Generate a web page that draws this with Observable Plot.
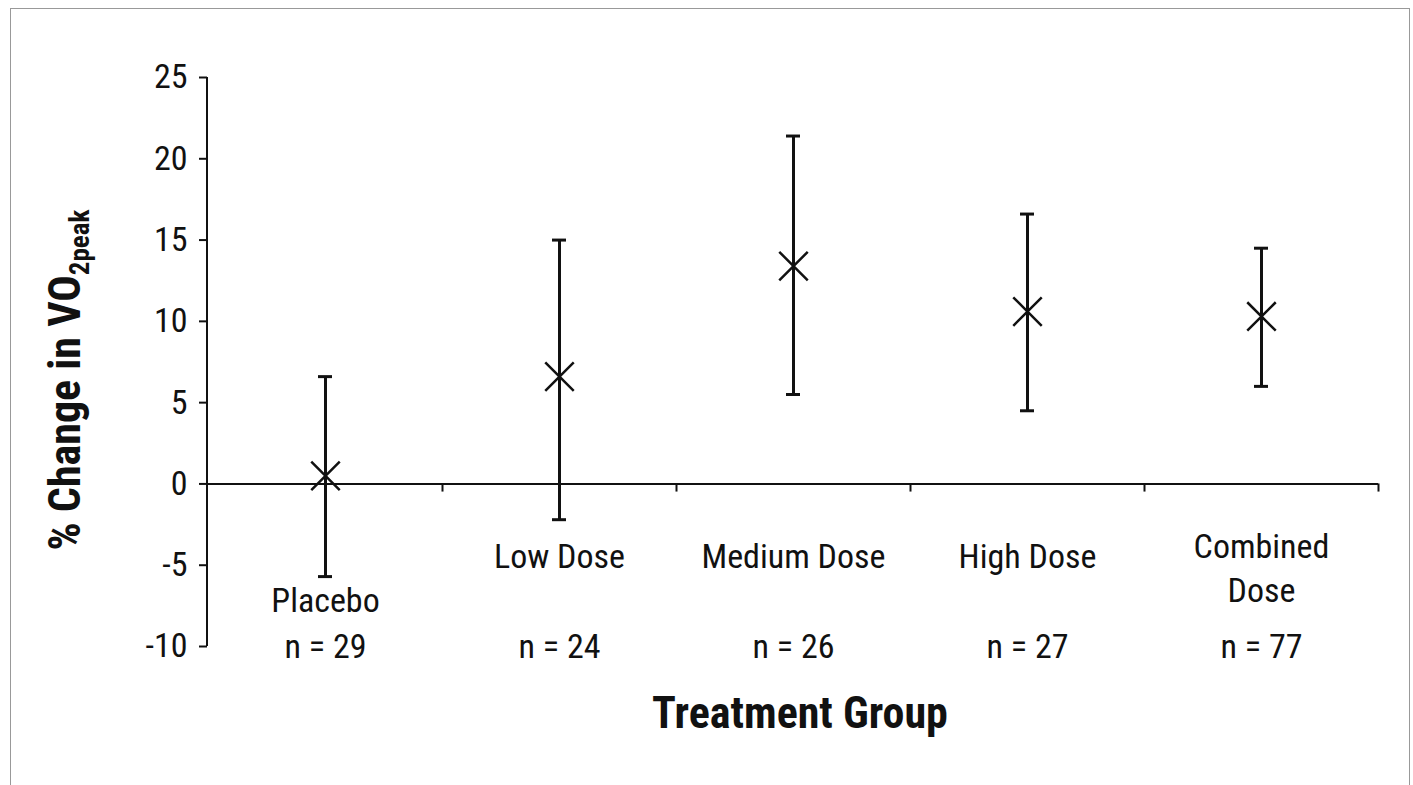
<!DOCTYPE html>
<html><head><meta charset="utf-8">
<script src="https://cdn.jsdelivr.net/npm/d3@7"></script>
<script src="https://cdn.jsdelivr.net/npm/@observablehq/plot@0.6"></script>
<style>
body{margin:0;background:#fff;}
#frame{position:absolute;left:10px;top:8px;width:1400px;height:800px;border:1.5px solid #999;box-sizing:border-box;}
#chart{position:absolute;left:0;top:0;}
</style></head><body>
<div id="frame"></div><div id="chart"></div>
<script>
const groups = ["Placebo", "Low Dose", "Medium Dose", "High Dose", "Combined Dose"];
const labels = ["Placebo", "Low Dose", "Medium Dose", "High Dose", "Combined\nDose"];
const means = [0.5, 6.6, 13.4, 10.6, 10.3];
const lows = [-5.7, -2.2, 5.5, 4.5, 6.0];
const highs = [6.6, 15.0, 21.4, 16.6, 14.5];
const ns = [29, 24, 26, 27, 77];
const yTicks = [-10, -5, 0, 5, 10, 15, 20, 25];

const data = groups.map((g, i) => ({g, label: labels[i], m: means[i], lo: lows[i], hi: highs[i], n: ns[i]}));
const font = "'Liberation Sans Narrow', 'Arial Narrow', 'Roboto Condensed', sans-serif";
const lbl = {fontSize: 34, fill: "#111", lineHeight: 1.3};

const chart = Plot.plot({
  width: 1413, height: 785,
  marginLeft: 207, marginRight: 35, marginTop: 77, marginBottom: 139,
  style: {fontFamily: font, fontSize: "34px", color: "#111"},
  x: {domain: groups, padding: 0, axis: null},
  y: {domain: [-10, 25], label: null, axis: null},
  marks: [
    Plot.axisY({ticks: yTicks, tickFormat: d => String(d), tickSize: 8, tickPadding: 12, fontSize: 34, label: null, strokeWidth: 2}),
    Plot.ruleY([0], {stroke: "#111", strokeWidth: 2}),
    Plot.ruleX(data, {x: "g", dx: 117, y1: 0, y2: -0.5, stroke: "#111", strokeWidth: 2}),
    Plot.ruleX(data, {x: "g", y1: "lo", y2: "hi", stroke: "#111", strokeWidth: 3}),
    Plot.tickY(data, {x: "g", y: "hi", insetLeft: 110, insetRight: 110, stroke: "#111", strokeWidth: 3}),
    Plot.tickY(data, {x: "g", y: "lo", insetLeft: 110, insetRight: 110, stroke: "#111", strokeWidth: 3}),
    Plot.dot(data, {x: "g", y: "m", symbol: "times", r: 13, stroke: "#111", strokeWidth: 2.5}),
    Plot.text(data.filter(d => d.g === "Placebo"), {x: "g", y: 0, text: "label", dy: 114, ...lbl}),
    Plot.text(data.filter(d => d.g !== "Placebo" && d.g !== "Combined Dose"), {x: "g", y: 0, text: "label", dy: 70, ...lbl}),
    Plot.text(data.filter(d => d.g === "Combined Dose"), {x: "g", y: 0, text: "label", dy: 82, ...lbl}),
    Plot.text(data, {x: "g", y: -10, text: d => `n = ${d.n}`, dy: -3, ...lbl})
  ]
});
const svg = d3.select(chart);
svg.append("line").attr("x1", 207).attr("x2", 207).attr("y1", 77).attr("y2", 646)
  .attr("stroke", "#111").attr("stroke-width", 2);
svg.append("text").attr("x", 800).attr("y", 728).attr("text-anchor", "middle")
  .attr("font-family", font).attr("font-weight", "bold").attr("font-size", 44).attr("fill", "#111")
  .text("Treatment Group");
const yl = svg.append("text").attr("transform", "translate(80,380) rotate(-90)").attr("text-anchor", "middle")
  .attr("font-family", font).attr("font-weight", "bold").attr("font-size", 44).attr("fill", "#111");
yl.append("tspan").text("% Change in VO");
yl.append("tspan").attr("font-size", 27).attr("dy", 9).text("2peak");
d3.select("#chart").append(() => chart);
</script></body></html>
